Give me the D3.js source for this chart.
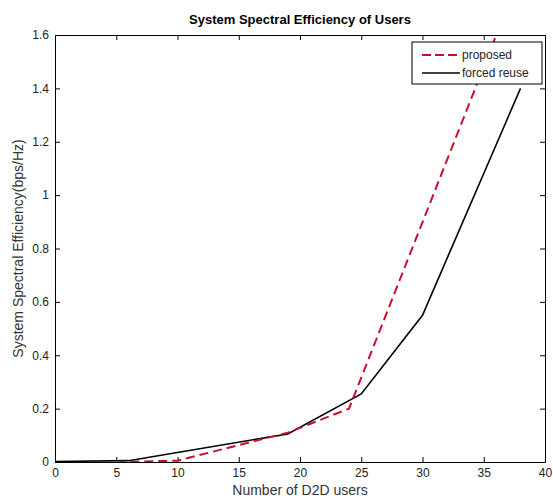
<!DOCTYPE html>
<html>
<head>
<meta charset="utf-8">
<script src="https://cdn.jsdelivr.net/npm/d3@7"></script>
<style>
  body { margin: 0; background: #fff; }
  text { font-family: "Liberation Sans", Arial, sans-serif; }
</style>
</head>
<body>
<div id="chart"></div>
<script>
// values
var proposedX = [5, 10, 19, 24, 38],
    proposedY = [0, 0.005, 0.11, 0.2, 1.83];
var reuseX = [0, 6, 19, 25, 30, 38],
    reuseY = [0.002, 0.005, 0.105, 0.255, 0.55, 1.4];
var xTicks = [0, 5, 10, 15, 20, 25, 30, 35, 40],
    yTicks = [0, 0.2, 0.4, 0.6, 0.8, 1, 1.2, 1.4, 1.6];

var width = 553, height = 500;
var margin = {top: 35, right: 8, bottom: 38, left: 55};
var w = width - margin.left - margin.right,
    h = height - margin.top - margin.bottom;

var svg = d3.select("#chart").append("svg")
    .attr("width", width)
    .attr("height", height);

var g = svg.append("g")
    .attr("transform", "translate(" + margin.left + "," + margin.top + ")");

var x = d3.scaleLinear().domain([0, 40]).range([0, w]),
    y = d3.scaleLinear().domain([0, 1.6]).range([h, 0]);

svg.append("defs").append("clipPath").attr("id", "clip")
  .append("rect").attr("width", w).attr("height", h);

// ticks: inward on all four sides, like matlab
var fmt = function(d) { return String(+d.toFixed(1)); };
g.append("g").attr("transform", "translate(0," + h + ")")
   .call(d3.axisBottom(x).tickValues(xTicks).tickSize(-5).tickPadding(6).tickFormat(fmt));
g.append("g")
   .call(d3.axisTop(x).tickValues(xTicks).tickSize(-5).tickFormat(""));
g.append("g")
   .call(d3.axisLeft(y).tickValues(yTicks).tickSize(-5).tickPadding(6).tickFormat(fmt));
g.append("g").attr("transform", "translate(" + w + ",0)")
   .call(d3.axisRight(y).tickValues(yTicks).tickSize(-5).tickFormat(""));

g.selectAll(".domain").attr("stroke", "#000");
g.selectAll(".tick line").attr("stroke", "#000");
g.selectAll(".tick text").attr("font-size", 12).attr("fill", "#222");

var line = d3.line()
    .x(function(d) { return x(d[0]); })
    .y(function(d) { return y(d[1]); });

var lines = g.append("g").attr("clip-path", "url(#clip)");

lines.append("path")
   .datum(reuseX.map(function(v, i) { return [v, reuseY[i]]; }))
   .attr("d", line)
   .attr("fill", "none")
   .attr("stroke", "#000")
   .attr("stroke-width", 1.6);

lines.append("path")
   .datum(proposedX.map(function(v, i) { return [v, proposedY[i]]; }))
   .attr("d", line)
   .attr("fill", "none")
   .attr("stroke", "#c8102e")
   .attr("stroke-width", 2)
   .attr("stroke-dasharray", "9,5");

// legend
var leg = svg.append("g").attr("transform", "translate(412,42)");
leg.append("rect")
   .attr("width", 130).attr("height", 42)
   .attr("fill", "#fff").attr("stroke", "#000");
var items = [
  {name: "proposed", color: "#c8102e", dash: "9,4", sw: 2},
  {name: "forced reuse", color: "#000", dash: null, sw: 1.6}
];
items.forEach(function(d, i) {
  var yy = 13 + i * 18;
  leg.append("line")
     .attr("x1", 10).attr("x2", 48).attr("y1", yy).attr("y2", yy)
     .attr("stroke", d.color).attr("stroke-width", d.sw)
     .attr("stroke-dasharray", d.dash);
  leg.append("text")
     .attr("x", 50).attr("y", yy + 4)
     .attr("font-size", 12).attr("fill", "#222")
     .text(d.name);
});

// titles
svg.append("text")
   .attr("x", margin.left + w / 2).attr("y", 24)
   .attr("text-anchor", "middle")
   .attr("font-size", 13).attr("font-weight", "bold")
   .text("System Spectral Efficiency of Users");

svg.append("text")
   .attr("x", margin.left + w / 2).attr("y", 495)
   .attr("text-anchor", "middle")
   .attr("font-size", 14).attr("fill", "#333")
   .text("Number of D2D users");

svg.append("text")
   .attr("transform", "translate(23," + (margin.top + h / 2) + ") rotate(-90)")
   .attr("text-anchor", "middle")
   .attr("font-size", 14).attr("fill", "#333")
   .text("System Spectral Efficiency(bps/Hz)");
</script>
</body>
</html>
